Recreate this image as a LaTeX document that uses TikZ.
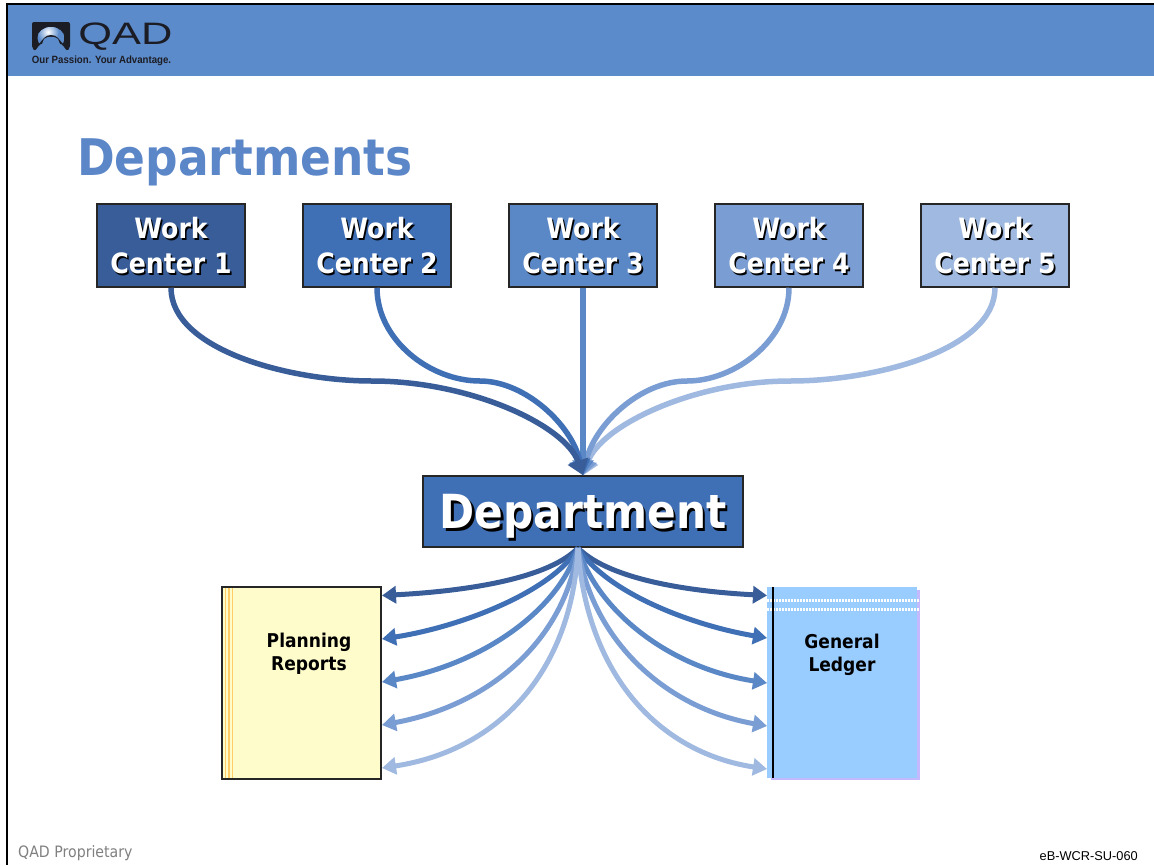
\documentclass[tikz,border=0pt]{standalone}
\usepackage{fontspec}
\setmainfont[FakeStretch=0.9]{DejaVu Sans}
\newfontfamily\arialf{Liberation Sans}
\usetikzlibrary{arrows.meta,shadings}
\definecolor{cA}{HTML}{385D99}
\definecolor{cB}{HTML}{3F6FB5}
\definecolor{cC}{HTML}{5A87C5}
\definecolor{cD}{HTML}{7A9DD3}
\definecolor{cE}{HTML}{9FB9E0}
\definecolor{hdr}{HTML}{5B8BCA}
\definecolor{ttl}{HTML}{5B86C8}
\definecolor{logok}{HTML}{1C1C24}
\definecolor{stripe}{HTML}{FFCC66}
\definecolor{ledger}{HTML}{99CCFF}
\definecolor{ledgers}{HTML}{C4B8FF}
\newcommand{\shtext}[2][1.6pt]{\makebox[0pt][l]{\kern#1\raisebox{-#1}{\textcolor{black}{#2}}}\textcolor{white}{#2}}
\newcommand{\wt}[1]{\raisebox{-1pt}[\height][\depth]{\shtext{#1}}}
\tikzset{
  x=1pt,y=-1pt,
  wcbox/.style={draw=black!85,line width=1.5pt,minimum width=148pt,minimum height=83pt,inner sep=0pt,align=center,font=\bfseries\fontsize{28}{35}\selectfont},
  link/.style={line width=5.5pt,-{Triangle[width=21pt,length=15pt]}},
  fan/.style={line width=5pt,-{Triangle[width=17pt,length=14pt]}},
  bookl/.style={font=\bfseries\fontsize{19}{23}\selectfont,align=center,inner sep=0pt,text=black}
}
\begin{document}
\begin{tikzpicture}
\useasboundingbox (0,0) rectangle (1154,865);
\fill[white] (0,0) rectangle (1154,865);
\fill[hdr] (8,5) rectangle (1154,76);
\fill[black] (6,3) rectangle (1154,5);
\fill[black] (6,3) rectangle (8,865);
% logo
\fill[logok,rounded corners=2pt] (32,22) -- (70,22) -- (70,48) -- (67,51) -- (62,44) -- (40,44) -- (35,51) -- (32,48) -- cycle;
\begin{scope}
\clip (51,38) ellipse (13.5 and 11);
\fill[hdr] (37,26) rectangle (65,50);
\shade[inner color=white,outer color=hdr] (48,32) circle (11);
\end{scope}
\fill[logok] (44,38) .. controls (47,34) and (55,34) .. (58,38) -- (63,44) -- (39,44) -- cycle;
\fill[hdr] (44,39) .. controls (47,36) and (55,36) .. (58,39) -- (60,44) -- (64,52) -- (38,52) -- (42,44) -- cycle;
\node[xscale=1.4,text=logok,anchor=center,inner sep=0pt,font=\arialf\fontsize{31}{31}\selectfont] (qad) at (125.5,37) {QAD};
\node[xscale=0.92,text=logok,anchor=center,inner sep=0pt,font=\arialf\bfseries\fontsize{10.5}{12}\selectfont] (tag) at (101.5,61) {Our Passion. Your Advantage.};
% title
\node[anchor=west,inner sep=0pt,text=ttl,font=\bfseries\fontsize{50.5}{60}\selectfont] (title) at (77,162) {Departments};
% connectors top
\coordinate (m1) at (372,381);
\coordinate (m2) at (480,381);
\coordinate (m4) at (687,381);
\coordinate (m5) at (790,381);
\node[wcbox,fill=cA] (wc1) at (171,245.5) {\wt{Work}\\\wt{Center 1}};
\node[wcbox,fill=cB] (wc2) at (377,245.5) {\wt{Work}\\\wt{Center 2}};
\node[wcbox,fill=cC] (wc3) at (583,245.5) {\wt{Work}\\\wt{Center 3}};
\node[wcbox,fill=cD] (wc4) at (789,245.5) {\wt{Work}\\\wt{Center 4}};
\node[wcbox,fill=cE] (wc5) at (995,245.5) {\wt{Work}\\\wt{Center 5}};
\node[draw=black!85,line width=1.5pt,fill=cB,minimum width=320pt,minimum height=71pt,inner sep=0pt,font=\bfseries\fontsize{47}{50}\selectfont] (dept) at (583,511.5) {\raisebox{-6pt}[\height][\depth]{\shtext[2.5pt]{Department}}};
\draw[link,cE] (wc5.south) .. controls (995,350) and (875,381) .. (m5) .. controls (695,381) and (601,425) .. (dept.north);
\draw[link,cD] (wc4.south) .. controls (789,340) and (735,381) .. (m4) .. controls (640,381) and (594,425) .. (dept.north);
\draw[link,cC] (wc3.south) -- (dept.north);
\draw[link,cB] (wc2.south) .. controls (377,340) and (430,381) .. (m2) .. controls (525,381) and (572,425) .. (dept.north);
\draw[link,cA] (wc1.south) .. controls (171,350) and (290,381) .. (m1) .. controls (470,381) and (565,425) .. (dept.north);
% books
\node[draw=black!85,line width=1.5pt,fill=yellow!20!white,minimum width=159pt,minimum height=192pt,inner sep=0pt] (plan) at (301.5,683) {};
\draw[stripe,line width=1.5pt] (225.5,588) -- (225.5,778) (229,588) -- (229,778) (232.5,588) -- (232.5,778);
\node[bookl] (planl) at (309,654) {Planning\\Reports};
\fill[ledgers] (771,590) rectangle (920,780);
\node[fill=ledger,minimum width=150pt,minimum height=191pt,inner sep=0pt] (gl) at (842,682.5) {};
\draw[white,line width=2.5pt,dash pattern=on 2pt off 1pt] (767,600.5) -- (919,600.5) (767,609.5) -- (919,609.5);
\draw[black,line width=1.5pt] (773,587) -- (773,778);
\node[bookl] (gll) at (842,655) {General\\Ledger};
% fan
\coordinate (pa) at (382,595.5); \coordinate (pb) at (382,639); \coordinate (pc) at (382,682); \coordinate (pd) at (382,725); \coordinate (pe) at (382,768);
\coordinate (ga) at (767,595.5); \coordinate (gb) at (767,638); \coordinate (gc) at (767,683); \coordinate (gd) at (767,726); \coordinate (ge) at (767,769);
\coordinate (fan) at (578,548);
\draw[fan,cA] (fan) .. controls (545,582) and (450,592) .. (pa);
\draw[fan,cA] (fan) .. controls (612,582) and (700,592) .. (ga);
\draw[fan,cB] (fan) .. controls (552,592) and (460,627) .. (pb);
\draw[fan,cB] (fan) .. controls (606,592) and (690,625) .. (gb);
\draw[fan,cC] (fan) .. controls (558,612) and (480,665) .. (pc);
\draw[fan,cC] (fan) .. controls (598,612) and (670,668) .. (gc);
\draw[fan,cD] (fan) .. controls (565,640) and (490,705) .. (pd);
\draw[fan,cD] (fan) .. controls (592,640) and (665,708) .. (gd);
\draw[fan,cE] (fan) .. controls (572,670) and (500,750) .. (pe);
\draw[fan,cE] (fan) .. controls (586,670) and (655,752) .. (ge);
% footer
\node[anchor=west,inner sep=0pt,text=black!50,font=\fontsize{15.7}{18}\selectfont] (fl) at (18,853) {QAD Proprietary};
\node[anchor=east,inner sep=0pt,font=\arialf\fontsize{12.8}{14}\selectfont] (fr) at (1138,856) {eB-WCR-SU-060};
\end{tikzpicture}
\end{document}
